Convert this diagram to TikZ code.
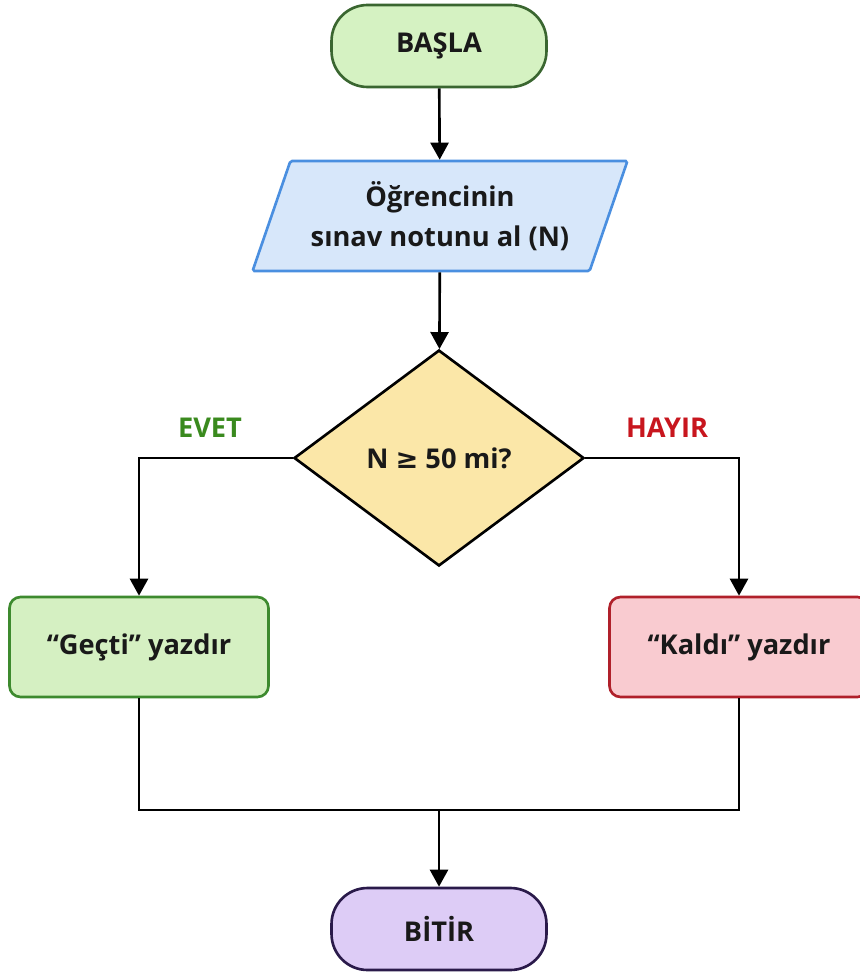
\documentclass[tikz,border=0pt]{standalone}
\usepackage{fontspec}
\setmainfont{Open Sans}
\newfontfamily\symfont{DejaVu Sans}
\usetikzlibrary{arrows.meta, shapes.geometric}
\usetikzlibrary{positioning}
\usepackage{xcolor}

\definecolor{startfill}{HTML}{D5F2C2}
\definecolor{startline}{HTML}{3A6630}
\definecolor{inputfill}{HTML}{D7E7FA}
\definecolor{inputline}{HTML}{4A8FE0}
\definecolor{askfill}{HTML}{FBE7A8}
\definecolor{passfill}{HTML}{D5F0C2}
\definecolor{passline}{HTML}{3D8A2E}
\definecolor{failfill}{HTML}{F9CBD0}
\definecolor{failline}{HTML}{B0202A}
\definecolor{endfill}{HTML}{DDCCF6}
\definecolor{endline}{HTML}{2A1A4A}
\definecolor{evetgreen}{HTML}{3A8A1E}
\definecolor{hayirred}{HTML}{C8161E}

\begin{document}
\begin{tikzpicture}[x=0.02cm, y=-0.02cm,
		every node/.style={font=\fontsize{15.5}{22.5}\selectfont\bfseries, text=black!90},
		line/.style={line width=1.5pt, black},
		arr/.style={line, -{Triangle[length=0.34cm, width=0.36cm]}},
		terminal/.style={draw, line width=1.5pt, rounded corners=0.72cm, minimum width=4.3cm, minimum height=1.64cm},
		inbox/.style={trapezium, trapezium left angle=67, trapezium right angle=113, trapezium stretches=true, draw=inputline, fill=inputfill, line width=1.5pt, rounded corners=1pt, minimum width=7.5cm, minimum height=2.2cm, align=center},
		ask/.style={diamond, draw, fill=askfill, line width=1.5pt, minimum width=5.8cm, minimum height=4.32cm, inner sep=0pt},
		outbox/.style={draw, line width=1.5pt, rounded corners=0.22cm, minimum width=5.18cm, minimum height=2cm}]
		\useasboundingbox (0,0) rectangle (859,976);
		\fill[white] (0,0) rectangle (859,976);

		\node[terminal, draw=startline, fill=startfill] (start) at (439,46) {BAŞLA};
		\node[inbox] (read) at (440,216) {Öğrencinin\\sınav notunu al (N)};
		\node[ask] (check) at (439,458) {N {\symfont ≥} 50 mi?};
		\node[outbox, draw=passline, fill=passfill] (pass) at (139,647) {“Geçti” yazdır};
		\node[outbox, draw=failline, fill=failfill] (fail) at (739,647) {“Kaldı” yazdır};
		\node[terminal, draw=endline, fill=endfill] (stop) at (439,929) {BİTİR};

		\node[text=evetgreen] (yes) at (210,428) {EVET};
		\node[text=hayirred] (no) at (667,428) {HAYIR};
		\coordinate (merge) at (439,810);

		\draw[arr] (start) -- (read);
		\draw[arr] (read) -- (check);
		\draw[arr] (check.west) -| (pass.north);
		\draw[arr] (check.east) -| (fail.north);
		\draw[line] (pass.south) |- (merge) -| (fail.south);
		\draw[arr] (merge) -- (stop);
	\end{tikzpicture}
\end{document}
